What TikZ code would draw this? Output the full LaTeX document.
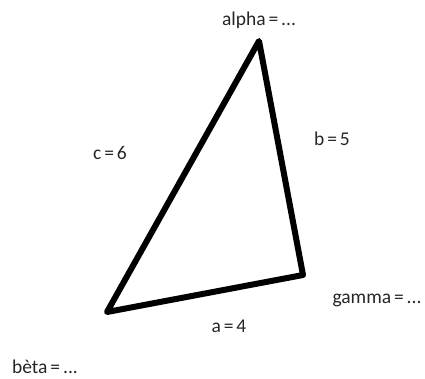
\documentclass[tikz,border=0pt]{standalone}
\usepackage{fontspec}
\setmainfont{Carlito}
\newcommand{\lblfont}{\fontsize{19.5}{22}\selectfont\spaceskip=0.15em\relax}
\begin{document}
\begin{tikzpicture}[x=1pt,y=-1pt,
  lbl/.style={inner sep=0pt,font=\lblfont,text=black!85},
  side/.style={line width=6pt,line join=round,line cap=round}]
\useasboundingbox (0,0) rectangle (425,378);
\coordinate (A) at (259,41);
\coordinate (C) at (303,275);
\coordinate (B) at (107,312);
\draw[side] (A) -- (C) -- (B) -- cycle;
\node[lbl] (alpha) at (259,20) {alpha = ...};
\node[lbl] (gamma) at (377,300) {gamma = ...};
\node[lbl] (beta) at (45,367) {bèta = ...};
\node[lbl] (a) at (229,326) {a = 4};
\node[lbl] (b) at (332,139) {b = 5};
\node[lbl] (c) at (110,153) {c = 6};
\end{tikzpicture}
\end{document}
